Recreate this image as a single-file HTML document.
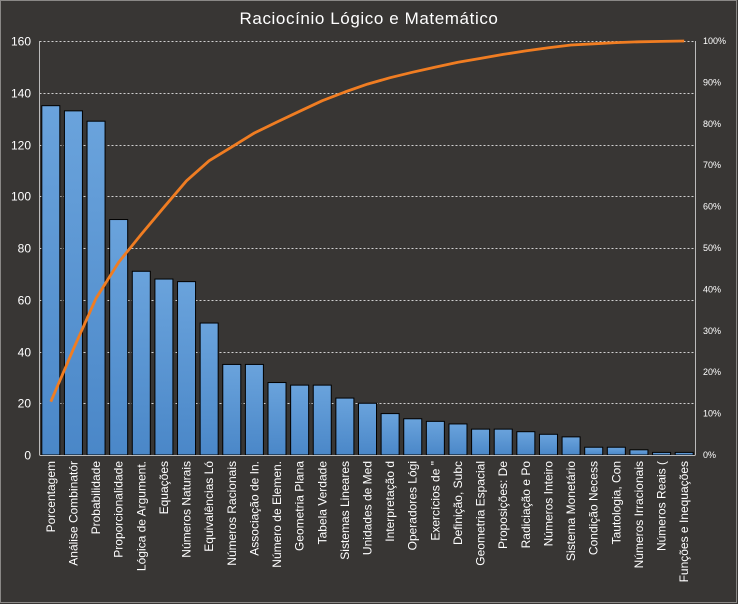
<!DOCTYPE html>
<html><head><meta charset="utf-8"><style>
html,body{margin:0;padding:0;background:#383634;}
svg{display:block;font-family:"Liberation Sans","DejaVu Sans",sans-serif;}
</style></head><body>
<svg width="738" height="604" viewBox="0 0 738 604" xmlns="http://www.w3.org/2000/svg">
<defs><linearGradient id="g" x1="0" y1="0" x2="0" y2="1"><stop offset="0" stop-color="#6aa3dc"/><stop offset="1" stop-color="#4a87c8"/></linearGradient></defs>
<rect x="0" y="0" width="738" height="604" fill="#383634"/>
<rect x="0.5" y="0.5" width="736" height="602" fill="none" stroke="#8a8886" stroke-width="1"/>
<text x="369" y="24" fill="#ffffff" font-size="17" text-anchor="middle" letter-spacing="0.6">Raciocínio  Lógico e Matemático</text>
<g id="grid" stroke="#d0d0d0" stroke-width="1" stroke-dasharray="2,2"></g>
<g id="bars"></g>
<line x1="39.5" y1="41" x2="39.5" y2="455" stroke="#bbbbbb"/>
<line x1="695.5" y1="41" x2="695.5" y2="455" stroke="#bbbbbb"/>
<line x1="39.5" y1="455.5" x2="695.5" y2="455.5" stroke="#bbbbbb"/>
<g id="yl" fill="#ffffff" font-size="12" text-anchor="end"></g>
<g id="yr" fill="#ffffff" font-size="9" text-anchor="start"></g>
<g id="xl" fill="#ffffff" font-size="12" text-anchor="end"></g>
<polyline id="line" fill="none" stroke="#f07d22" stroke-width="2.8" stroke-linejoin="round"/>
</svg>
<script>
var ns="http://www.w3.org/2000/svg";
var v=[135,133,129,91,71,68,67,51,35,35,28,27,27,22,20,16,14,13,12,10,10,9,8,7,3,3,2,1,1];
var n=["Porcentagem","Análise Combinatór","Probabilidade","Proporcionalidade","Lógica de Argument.","Equações","Números Naturais","Equivalências Ló","Números Racionais","Associação de In.","Número de Elemen.","Geometria Plana","Tabela Verdade","Sistemas Lineares","Unidades de Med","Interpretação d","Operadores Lógi","Exercícios de \"","Definição, Subc","Geometria Espacial","Proposições: De","Radiciação e Po","Números Inteiro","Sistema Monetário","Condição Necess","Tautologia, Con","Números Irracionais","Números Reais (","Funções e Inequações"];
function el(t,a,p,txt){var e=document.createElementNS(ns,t);for(var k in a)e.setAttribute(k,a[k]);if(txt!=null)e.textContent=txt;document.getElementById(p).appendChild(e);return e;}
var x0=39.5,x1=695.5,y0=455,y1=41,H=y0-y1,step=(x1-x0)/29;
for(var i=0;i<=8;i++){var y=Math.round(y0-H*i/8)+0.5;if(i>0)el("line",{x1:x0,x2:x1,y1:y,y2:y},"grid");el("text",{x:31,y:y+4},"yl",String(i*20));}
for(var i=0;i<=10;i++){var y=y0-H*i/10;el("text",{x:703,y:y+3},"yr",(i*10)+"%");}
var tot=v.reduce(function(a,b){return a+b},0),c=0,pts=[];
for(var i=0;i<29;i++){var cx=x0+step*(i+0.5),h=v[i]/160*H;
el("rect",{x:cx-9,y:y0-h,width:18,height:h,fill:"url(#g)",stroke:"#000",'stroke-width':1},"bars");
c+=v[i];pts.push(cx.toFixed(1)+","+(y0-c/tot*H).toFixed(1));
el("text",{transform:"translate("+(cx+4)+",461) rotate(-90)"},"xl",n[i]);}
document.getElementById("line").setAttribute("points",pts.join(" "));
</script>
</body></html>
